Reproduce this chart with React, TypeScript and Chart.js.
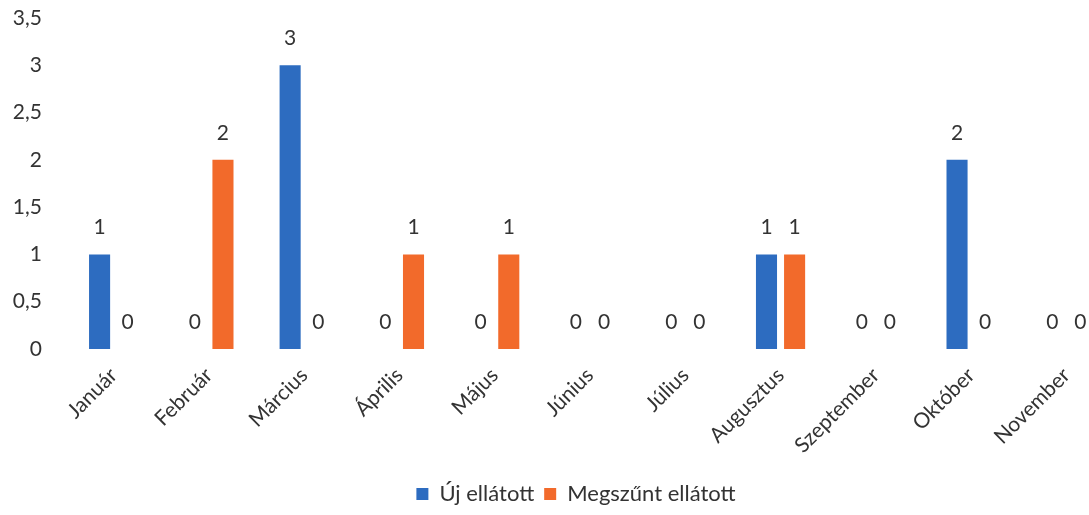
import React, { useEffect, useRef } from "react";
import { Chart, registerables } from "chart.js";

Chart.register(...registerables);

const months = [
  "Január",
  "Február",
  "Március",
  "Április",
  "Május",
  "Június",
  "Július",
  "Augusztus",
  "Szeptember",
  "Október",
  "November",
];

const newClients = [1, 0, 3, 0, 0, 0, 0, 1, 0, 2, 0];
const endedClients = [0, 2, 0, 1, 1, 0, 0, 1, 0, 0, 0];

const seriesNames = ["Új ellátott", "Megszűnt ellátott"];
const yTicks = { min: 0, max: 3.5, step: 0.5 };

const BLUE = "#2d6cc0";
const ORANGE = "#f26a2b";
const TEXT = "#333333";
const FONT = "Lato, 'Open Sans', sans-serif";

// Writes each bar's value just above its top edge.
const valueLabels = {
  id: "valueLabels",
  afterDatasetsDraw(chart: any) {
    const { ctx } = chart;
    ctx.save();
    ctx.font = `21px ${FONT}`;
    ctx.fillStyle = TEXT;
    ctx.textAlign = "center";
    ctx.textBaseline = "middle";
    chart.data.datasets.forEach((ds: any, di: number) => {
      const meta = chart.getDatasetMeta(di);
      meta.data.forEach((bar: any, i: number) => {
        ctx.fillText(String(ds.data[i]), bar.x, bar.y - 27);
      });
    });
    ctx.restore();
  },
};

// Nudges the legend row slightly to the right of the canvas centre.
const legendShift = {
  id: "legendShift",
  afterLayout(chart: any) {
    const lg = chart.legend;
    if (!lg) return;
    lg.left += 15;
    lg.right += 15;
  },
};

export default function App() {
  const canvasRef = useRef<HTMLCanvasElement | null>(null);

  useEffect(() => {
    if (!canvasRef.current) return;
    const chart = new Chart(canvasRef.current, {
      type: "bar",
      data: {
        labels: months,
        datasets: [
          {
            label: seriesNames[0],
            data: newClients,
            backgroundColor: BLUE,
            categoryPercentage: 0.59,
            barPercentage: 0.75,
          },
          {
            label: seriesNames[1],
            data: endedClients,
            backgroundColor: ORANGE,
            categoryPercentage: 0.59,
            barPercentage: 0.75,
          },
        ],
      },
      options: {
        animation: false,
        responsive: false,
        maintainAspectRatio: false,
        layout: { padding: { left: 8, right: 68, top: 18, bottom: 0 } },
        plugins: {
          tooltip: { enabled: false },
          legend: {
            position: "bottom",
            labels: {
              boxWidth: 12,
              boxHeight: 12,
              padding: 10,
              color: TEXT,
              font: { family: FONT, size: 22 },
            },
          },
        },
        scales: {
          x: {
            grid: { display: false, drawTicks: false },
            border: { display: false },
            ticks: {
              color: TEXT,
              font: { family: FONT, size: 21 },
              minRotation: 45,
              maxRotation: 45,
              padding: 14,
              autoSkip: false,
            },
            afterFit(scale: any) {
              scale.height = 124;
              scale.paddingLeft = 0;
              scale.paddingRight = 0;
            },
          },
          y: {
            min: yTicks.min,
            max: yTicks.max,
            grid: { display: false, drawTicks: false },
            border: { display: false },
            ticks: {
              stepSize: yTicks.step,
              color: TEXT,
              font: { family: FONT, size: 21 },
              padding: 24,
              callback: (v: any) => String(v).replace(".", ","),
            },
            afterFit(scale: any) {
              scale.width = 58;
              scale.paddingTop = 0;
              scale.paddingBottom = 0;
            },
          },
        },
      },
      plugins: [valueLabels, legendShift],
    });
    return () => chart.destroy();
  }, []);

  return (
    <div
      style={{
        position: "fixed",
        left: 0,
        top: 0,
        width: 1089,
        height: 515,
        overflow: "hidden",
        background: "#ffffff",
      }}
    >
      <canvas ref={canvasRef} width={1182} height={515} style={{ display: "block" }} />
    </div>
  );
}
